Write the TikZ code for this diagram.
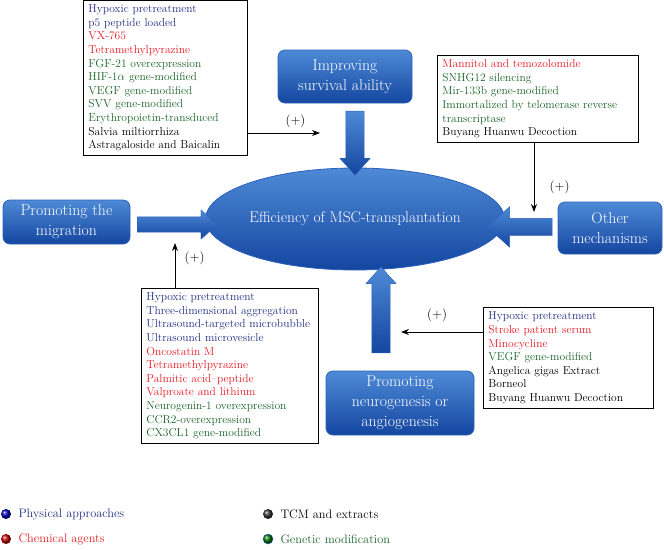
\documentclass[tikz,border=0pt]{standalone}
\usepackage{xcolor}
\usetikzlibrary{arrows.meta}
\usetikzlibrary{shapes.arrows}
\usetikzlibrary{shapes.geometric}

\definecolor{navytext}{RGB}{36,46,128}
\definecolor{redtext}{RGB}{232,26,34}
\definecolor{greentext}{RGB}{26,100,40}
\definecolor{boxtop}{RGB}{78,138,214}
\definecolor{boxbottom}{RGB}{20,70,160}
\definecolor{boxedge}{RGB}{44,96,188}

\hyphenpenalty=10000
\exhyphenpenalty=10000

\tikzset{
  listbox/.style={rectangle,draw=black,thick,anchor=north west,align=left,
    inner xsep=5pt,inner ysep=4pt,font=\fontsize{11.5}{13.6}\selectfont},
  bluebox/.style={rectangle,rounded corners=7pt,draw=boxedge,thick,
    top color=boxtop,bottom color=boxbottom,text=white,align=center,
    font=\fontsize{15.8}{20}\selectfont},
  blockarrow/.style={single arrow,draw=boxedge,thin,left color=boxtop,
    right color=boxbottom,shading angle=0,inner xsep=0pt,inner ysep=9pt,
    single arrow head extend=6pt,single arrow tip angle=84},
  plus/.style={font=\fontsize{13}{15}\selectfont}
}

\begin{document}
\begin{tikzpicture}[x=1pt,y=-1pt]
\useasboundingbox (0,0) rectangle (664,549);

% mechanism boxes and the centre
\node[bluebox,minimum width=134pt,minimum height=53pt] (surv) at (345,76.5) {Improving\\survival ability};
\node[bluebox,minimum width=127pt,minimum height=44pt] (migr) at (66.5,222) {Promoting the\\migration};
\node[bluebox,minimum width=104pt,minimum height=52pt] (other) at (610,228) {Other\\mechanisms};
\node[bluebox,minimum width=148pt,minimum height=64pt] (neuro) at (400,403) {Promoting\\neurogenesis or\\angiogenesis};
\node[ellipse,draw=boxedge,thick,top color=boxtop,bottom color=boxbottom,text=white,
      minimum width=274pt,minimum height=102pt,inner sep=0pt,font=\fontsize{15.5}{18}\selectfont] (eff) at (355,219)
      {Efficiency of MSC-transplantation};

% big blue arrows
\node[blockarrow,minimum height=64pt,rotate=-90] (survarrow) at (355,138) {};
\node[blockarrow,minimum height=80pt,inner ysep=7.5pt,single arrow head extend=7pt] (migrarrow) at (173,224.5) {};
\node[blockarrow,minimum height=65pt,inner ysep=8.5pt,single arrow head extend=11.5pt,rotate=180] (otherarrow) at (524.5,227) {};
\node[blockarrow,minimum height=86pt,rotate=90] (neuroarrow) at (381,315) {};

% lists of approaches
\node[listbox,minimum width=164pt,minimum height=155pt,text width=154pt] (survlist) at (83,0) {%
  \color{navytext}Hypoxic pretreatment\\
  \color{navytext}p5 peptide loaded\\
  \color{redtext}VX-765\\
  \color{redtext}Tetramethylpyrazine\\
  \color{greentext}FGF-21 overexpression\\
  \color{greentext}HIF-1$\alpha$ gene-modified\\
  \color{greentext}VEGF gene-modified\\
  \color{greentext}SVV gene-modified\\
  \color{greentext}Erythropoietin-transduced\\
  \color{black}Salvia miltiorrhiza\\
  \color{black}Astragaloside and Baicalin};
\node[listbox,minimum width=201pt,minimum height=87pt,text width=191pt] (otherlist) at (437,55) {%
  \color{redtext}Mannitol and temozolomide\\
  \color{greentext}SNHG12 silencing\\
  \color{greentext}Mir-133b gene-modified\\
  \color{greentext}Immortalized by telomerase reverse\\
  \color{greentext}transcriptase\\
  \color{black}Buyang Huanwu Decoction};
\node[listbox,minimum width=177pt,minimum height=155pt,text width=167pt] (migrlist) at (141,288) {%
  \color{navytext}Hypoxic pretreatment\\
  \color{navytext}Three-dimensional aggregation\\
  \color{navytext}Ultrasound-targeted microbubble\\
  \color{navytext}Ultrasound microvesicle\\
  \color{redtext}Oncostatin M\\
  \color{redtext}Tetramethylpyrazine\\
  \color{redtext}Palmitic acid--peptide\\
  \color{redtext}Valproate and lithium\\
  \color{greentext}Neurogenin-1 overexpression\\
  \color{greentext}CCR2-overexpression\\
  \color{greentext}CX3CL1 gene-modified};
\node[listbox,minimum width=170pt,minimum height=101pt,text width=160pt] (neurolist) at (483,307) {%
  \color{navytext}Hypoxic pretreatment\\
  \color{redtext}Stroke patient serum\\
  \color{redtext}Minocycline\\
  \color{greentext}VEGF gene-modified\\
  \color{black}Angelica gigas Extract\\
  \color{black}Borneol\\
  \color{black}Buyang Huanwu Decoction};

% thin arrows
\coordinate (survtip) at (320,133);
\coordinate (othertip) at (534,212);
\coordinate (migrtip) at (175,243);
\coordinate (neurotip) at (401,332);
\begin{scope}[>={Stealth[length=8pt,width=6pt]},thick]
  \draw[->] (survlist.east |- survtip) -- (survtip) node[plus,pos=0.66,above=2pt] {(+)};
  \draw[->] (otherlist.south -| othertip) -- (othertip) node[plus,pos=0.64,right=12pt] {(+)};
  \draw[->] (migrlist.north -| migrtip) -- (migrtip) node[plus,pos=0.67,right=6pt] {(+)};
  \draw[->] (neurolist.west |- neurotip) -- (neurotip) node[plus,pos=0.56,above=7pt] {(+)};
\end{scope}

% legend
\begin{scope}[every node/.style={anchor=west,font=\fontsize{12.3}{15}\selectfont}]
  \shade[ball color=blue!70!black] (6,514) circle (5);
  \node (physleg) at (15,514) {\color{navytext}Physical approaches};
  \shade[ball color=red!75!black] (6,539) circle (5);
  \node (chemleg) at (15,539) {\color{redtext}Chemical agents};
  \shade[ball color=black!80] (268,514) circle (5);
  \node (tcmleg) at (277,514) {TCM and extracts};
  \shade[ball color=green!45!black] (268,539) circle (5);
  \draw[boxedge,thin] (268,539) circle (5);
  \node (geneleg) at (277,539) {\color{greentext}Genetic modification};
\end{scope}
\end{tikzpicture}
\end{document}
